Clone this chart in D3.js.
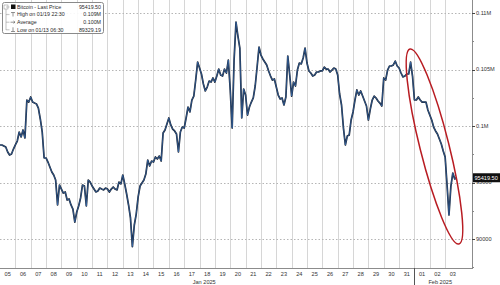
<!DOCTYPE html>
<html>
<head>
<meta charset="utf-8">
<script src="https://cdn.jsdelivr.net/npm/d3@7"></script>
<style>
  html, body { margin: 0; padding: 0; background: #fff; }
  svg { display: block; font-family: "Liberation Sans", Arial, sans-serif; }
</style>
</head>
<body>
<div id="chart"></div>
<script>
// Bitcoin last price, one reading every 3 hours from Jan 5 2025 00:00 (UTC)
const startTime = Date.UTC(2025, 0, 5);
const stepHours = 3;
const prices = [
  98320, 98320, 98230, 98140, 97700, 97430, 97520, 97960, 98320, 98670, 99470, 99030, 99650, 98940,
  102300, 102120, 102570, 102120, 102030, 101950, 101590, 100620, 99470, 97170, 97170, 96810, 96370,
  95930, 95660, 95220, 93010, 94780, 94420, 94070, 94160, 93450, 93540, 93010, 92650, 91500, 92390,
  92920, 93630, 94780, 94690, 92920, 95220, 95040, 94690, 94420, 94160, 94250, 94510, 94420, 94340,
  94510, 94420, 94160, 94420, 94600, 94420, 94340, 95040, 94870, 95660, 94870, 93980, 93010, 91860,
  89330, 91240, 92210, 93720, 94690, 94950, 95220, 95750, 96990, 96460, 96900, 96810, 97260, 97080,
  97340, 96900, 99380, 99650, 100180, 100710, 100090, 99730, 99560, 99290, 97700, 99470, 99910, 99820,
  100710, 101680, 101240, 102300, 102650, 104070, 105660, 105130, 104600, 103720, 103100, 103450,
  103980, 103890, 104250, 103890, 104420, 105040, 104510, 104420, 105040, 104690, 105840, 103190,
  99820, 105840, 109200, 107960, 106900, 100710, 103270, 102740, 100970, 101680, 102120, 102480,
  103540, 105220, 106990, 106280, 105930, 105660, 105400, 104870, 104420, 104070, 104160, 103450,
  102740, 102390, 102480, 101860, 102570, 106190, 104510, 102650, 103890, 103540, 104950, 105570,
  105490, 106020, 106900, 105570, 104870, 104690, 104420, 104510, 104780, 104780, 104870, 104870,
  105220, 105040, 105040, 104780, 104950, 105130, 105040, 104510, 102830, 101860, 99820, 98320,
  99110, 99200, 100530, 101240, 102300, 103190, 102740, 103100, 102650, 102210, 101770, 100530,
  101500, 102300, 102650, 102480, 102210, 102030, 101770, 104250, 104070, 104950, 105310, 105310,
  105400, 105750, 105310, 105130, 104690, 104340, 104420, 104600, 104600, 105660, 104420, 102300,
  102300, 102570, 102300, 102120, 102120, 102120, 101420, 100970, 100530, 99910, 99560, 99290,
  98850, 98410, 97790, 97260, 94780, 92120, 94690, 95840, 95310, 95419.5
];

const priceTicks = [90000, 95000, 100000, 105000, 110000];
const priceTickLabels = ["90000", "95000", "0.1M", "0.105M", "0.11M"];
const minorPriceTicks = [87500, 92500, 97500, 102500, 107500];
const monthLabels = [
  { label: "Jan 2025", from: Date.UTC(2025, 0, 5), to: Date.UTC(2025, 1, 1) },
  { label: "Feb 2025", from: Date.UTC(2025, 1, 1), to: Date.UTC(2025, 1, 4, 18) }
];
const legendRows = [
  ["Bitcoin - Last Price", "95419.50"],
  ["High on 01/19 22:30", "0.109M"],
  ["Average", "0.100M"],
  ["Low on 01/13 06:30", "89329.19"]
];
const lastPrice = 95419.5;
// highlighted slide (annotation ellipse), centre in data units
const ellipseCenter = { time: Date.UTC(2025, 1, 2, 7, 20), price: 98185 };

const width = 500, height = 285;
const plotRight = 472, plotBottom = 268;

const svg = d3.select("#chart").append("svg")
  .attr("width", width)
  .attr("height", height);

const x = d3.scaleUtc()
  .domain([new Date(startTime), new Date(Date.UTC(2025, 1, 4, 18))])
  .range([0, plotRight]);

const y = d3.scaleLinear()
  .domain([90000, 110000])
  .range([239, 13]);

const series = prices.map((p, i) => ({ t: new Date(startTime + i * stepHours * 3600e3), p }));

// vertical day gridlines
const days = d3.utcDay.range(new Date(Date.UTC(2025, 0, 6)), new Date(Date.UTC(2025, 1, 3, 1)));
svg.append("g").selectAll("line")
  .data(days)
  .join("line")
  .attr("x1", d => Math.round(x(d)) + 0.5)
  .attr("x2", d => Math.round(x(d)) + 0.5)
  .attr("y1", 0)
  .attr("y2", plotBottom)
  .attr("stroke", "#d6d6d6")
  .attr("stroke-width", 1);

// horizontal dotted gridlines
svg.append("g").selectAll("line")
  .data(priceTicks)
  .join("line")
  .attr("x1", 0)
  .attr("x2", plotRight)
  .attr("y1", d => Math.round(y(d)) + 0.5)
  .attr("y2", d => Math.round(y(d)) + 0.5)
  .attr("stroke", "#b5b5b5")
  .attr("stroke-dasharray", "1.5,2");

// price line
const line = d3.line()
  .x(d => x(d.t))
  .y(d => y(d.p));

svg.append("path")
  .datum(series)
  .attr("fill", "none")
  .attr("stroke", "#18202f")
  .attr("stroke-width", 1.7)
  .attr("stroke-linejoin", "round")
  .attr("d", line);

svg.append("path")
  .datum(series)
  .attr("fill", "none")
  .attr("stroke", "#3f7fcf")
  .attr("stroke-width", 0.6)
  .attr("stroke-opacity", 0.9)
  .attr("stroke-linejoin", "round")
  .attr("d", line);

// annotation ellipse
svg.append("ellipse")
  .attr("cx", 0)
  .attr("cy", 0)
  .attr("rx", 100.5)
  .attr("ry", 14.5)
  .attr("transform", `translate(${x(new Date(ellipseCenter.time))},${y(ellipseCenter.price)}) rotate(75.9)`)
  .attr("fill", "none")
  .attr("stroke", "#b81c22")
  .attr("stroke-width", 1.5);

// right axis
const yAxis = svg.append("g");
yAxis.append("line")
  .attr("x1", plotRight + 0.5).attr("x2", plotRight + 0.5)
  .attr("y1", 0).attr("y2", plotBottom)
  .attr("stroke", "#8c8c8c");
yAxis.selectAll(".major")
  .data(priceTicks)
  .join("line")
  .attr("class", "major")
  .attr("x1", plotRight).attr("x2", plotRight + 3)
  .attr("y1", d => Math.round(y(d)) + 0.5)
  .attr("y2", d => Math.round(y(d)) + 0.5)
  .attr("stroke", "#444");
yAxis.selectAll(".minor")
  .data(minorPriceTicks)
  .join("line")
  .attr("class", "minor")
  .attr("x1", plotRight).attr("x2", plotRight + 2)
  .attr("y1", d => Math.round(y(d)) + 0.5)
  .attr("y2", d => Math.round(y(d)) + 0.5)
  .attr("stroke", "#888");
yAxis.selectAll("text")
  .data(priceTicks)
  .join("text")
  .attr("x", plotRight + 4)
  .attr("y", d => y(d))
  .attr("dy", "0.35em")
  .attr("font-size", 5.6)
  .attr("fill", "#333")
  .text((d, i) => priceTickLabels[i]);

// last price tag
const tag = svg.append("g").attr("transform", `translate(${plotRight + 1},${y(lastPrice)})`);
tag.append("rect")
  .attr("x", 0).attr("y", -4.5)
  .attr("width", 27).attr("height", 9)
  .attr("fill", "#111");
tag.append("text")
  .attr("x", 1.5).attr("y", 0)
  .attr("dy", "0.35em")
  .attr("font-size", 5.6)
  .attr("fill", "#fff")
  .text(d3.format(".2f")(lastPrice));

// bottom axis
const xAxis = svg.append("g");
xAxis.append("line")
  .attr("x1", 0).attr("x2", plotRight + 1)
  .attr("y1", plotBottom + 0.5).attr("y2", plotBottom + 0.5)
  .attr("stroke", "#8c8c8c");
const labelDays = d3.utcDay.range(new Date(startTime), new Date(Date.UTC(2025, 1, 4)));
xAxis.selectAll(".day")
  .data(labelDays)
  .join("text")
  .attr("class", "day")
  .attr("x", d => x(d3.utcHour.offset(d, 12)))
  .attr("y", 275.5)
  .attr("text-anchor", "middle")
  .attr("font-size", 5.6)
  .attr("fill", "#333")
  .text(d3.utcFormat("%d"));
xAxis.selectAll(".month")
  .data(monthLabels)
  .join("text")
  .attr("class", "month")
  .attr("x", d => (x(new Date(d.from)) + x(new Date(d.to))) / 2 - 3)
  .attr("y", 283.5)
  .attr("text-anchor", "middle")
  .attr("font-size", 5.6)
  .attr("fill", "#333")
  .text(d => d.label);
xAxis.append("line")
  .attr("x1", Math.round(x(new Date(monthLabels[1].from))) + 0.5)
  .attr("x2", Math.round(x(new Date(monthLabels[1].from))) + 0.5)
  .attr("y1", plotBottom).attr("y2", height)
  .attr("stroke", "#555");

// legend
const legend = svg.append("g").attr("transform", "translate(2.5,2.5)");
legend.append("rect")
  .attr("width", 101).attr("height", 31)
  .attr("rx", 2)
  .attr("fill", "#fff")
  .attr("fill-opacity", 0.9)
  .attr("stroke", "#8a8a8a");
legend.append("line")
  .attr("x1", 3.5).attr("x2", 3.5).attr("y1", 5).attr("y2", 27.5)
  .attr("stroke", "#999").attr("stroke-width", 0.6);
legend.append("rect")
  .attr("x", 1.5).attr("y", 2.5).attr("width", 4).attr("height", 4)
  .attr("fill", "#fff").attr("stroke", "#999").attr("stroke-width", 0.6);
const rows = legend.selectAll(".row")
  .data(legendRows)
  .join("g")
  .attr("class", "row")
  .attr("transform", (d, i) => `translate(0,${4.5 + i * 7.6})`);
rows.append("line")
  .attr("x1", 3.5).attr("x2", 7).attr("y1", 0).attr("y2", 0)
  .attr("stroke", "#999").attr("stroke-width", 0.6);
rows.append("text")
  .attr("x", 14.5).attr("y", 0)
  .attr("dy", "0.35em")
  .attr("font-size", 5.3)
  .attr("fill", "#2a2a2a")
  .text(d => d[0]);
rows.append("text")
  .attr("x", 98.5).attr("y", 0)
  .attr("dy", "0.35em")
  .attr("text-anchor", "end")
  .attr("font-size", 5.3)
  .attr("fill", "#2a2a2a")
  .text(d => d[1]);
// legend icons
legend.append("rect")
  .attr("x", 8.5).attr("y", 2).attr("width", 4.5).attr("height", 4.5)
  .attr("fill", "#111");
const icon = legend.append("g").attr("stroke", "#666").attr("stroke-width", 0.7).attr("fill", "none");
icon.append("path").attr("d", "M8.5,10 H12.5 M10.5,10 V14");
icon.append("path").attr("d", "M8,19.7 H12.5 M11,18.5 L12.5,19.7 L11,20.9");
icon.append("path").attr("d", "M10.5,24.8 V29 M8.5,29 H12.5");
</script>
</body>
</html>
